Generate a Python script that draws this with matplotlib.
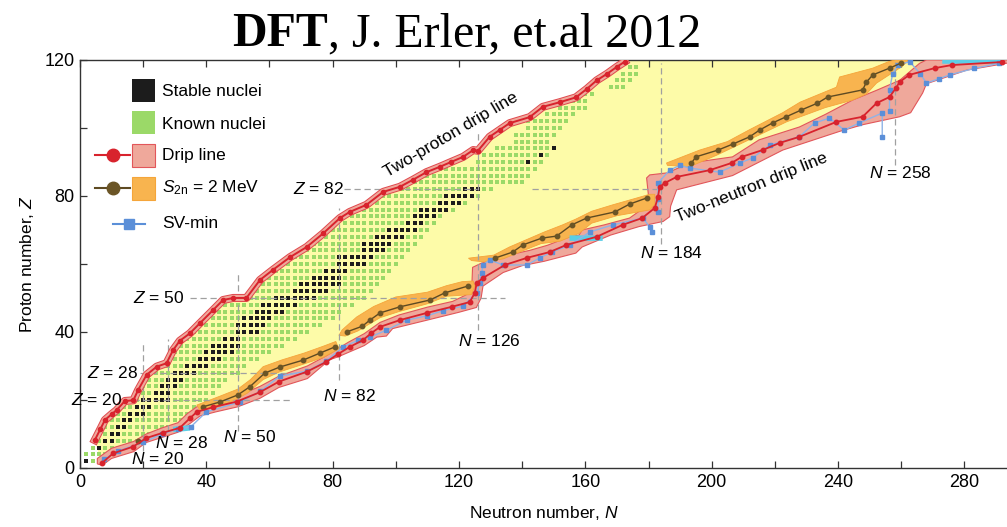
import numpy as np
import matplotlib
matplotlib.use("Agg")
import matplotlib.pyplot as plt
from matplotlib.patches import Polygon, Rectangle
from matplotlib.lines import Line2D

plt.rcParams["font.family"] = ["Liberation Sans", "DejaVu Sans"]
plt.rcParams["mathtext.fontset"] = "custom"
plt.rcParams["mathtext.rm"] = "Liberation Sans"
plt.rcParams["mathtext.it"] = "Liberation Sans:italic"
plt.rcParams["mathtext.bf"] = "Liberation Sans:bold"

# =========================
# data
# =========================
nan = float("nan")

# known nuclei: N range per even Z
known_Z = [2, 4, 6, 8, 10, 12, 14, 16, 18, 20, 22, 24, 26, 28, 30, 32, 34, 36, 38, 40,
           42, 44, 46, 48, 50, 52, 54, 56, 58, 60, 62, 64, 66, 68, 70, 72, 74, 76, 78, 80,
           82, 84, 86, 88, 90, 92, 94, 96, 98, 100, 102, 104, 106, 108, 110, 112, 114, 116, 118]
known_Nmin = [2, 2, 4, 6, 8, 8, 10, 12, 14, 16, 18, 20, 22, 22, 26, 28, 30, 32, 34, 36,
              40, 42, 44, 46, 50, 54, 56, 58, 62, 64, 68, 72, 74, 78, 80, 84, 86, 90, 92, 96,
              98, 104, 108, 112, 126, 128, 132, 138, 138, 142, 142, 148, 152, 154, 160, 168, 170, 172, 174]
known_Nmax = [8, 10, 14, 20, 28, 30, 32, 34, 36, 40, 42, 44, 46, 50, 52, 56, 60, 64, 68, 72,
              76, 80, 82, 86, 90, 92, 94, 96, 98, 100, 102, 104, 106, 108, 110, 112, 114, 118, 122, 126,
              130, 140, 142, 144, 146, 148, 150, 148, 150, 152, 154, 156, 160, 160, 162, 172, 174, 176, 176]

# stable nuclei: N range per Z
stable_Z = [2, 6, 8, 10, 12, 14, 16, 18, 20, 22, 24, 26, 28, 30, 32, 34, 36, 38, 40, 42,
            44, 46, 48, 50, 52, 54, 56, 58, 60, 62, 64, 66, 68, 70, 72, 74, 76, 78, 80, 82,
            90, 92, 94]
stable_Nlo = [2, 6, 8, 10, 12, 14, 16, 18, 20, 24, 26, 28, 30, 34, 38, 40, 42, 46, 50, 50,
              52, 56, 58, 62, 68, 70, 74, 78, 82, 82, 90, 90, 94, 98, 104, 106, 108, 114, 116, 122,
              142, 146, 150]
stable_Nhi = [2, 6, 10, 12, 14, 16, 20, 22, 28, 28, 30, 32, 36, 40, 44, 48, 50, 50, 56, 58,
              60, 64, 68, 74, 78, 82, 82, 84, 90, 92, 96, 98, 102, 106, 108, 112, 116, 120, 124, 126,
              142, 146, 150]

# two-proton drip line
pdrip_N = [4.7, 6.5, 7.9, 10, 11.6, 14.2, 16.9, 18.4, 21.1, 24.3, 27.4, 29.5, 31.6, 34.8, 38,
           42.2, 45.3, 48.5, 52.7, 57, 61, 66.5, 71.8, 77, 82.3, 85.4, 90.7, 96, 101.3, 105.5,
           109.7, 114, 117.5, 121.3, 124.5, 126, 129.7, 133, 136, 142.4, 146.5, 152, 157, 160.5,
           163.6, 167, 170, 172.5]
pdrip_Z = [8.2, 11.5, 14.1, 15.8, 17.0, 19.7, 19.9, 22.9, 27.4, 29.8, 30.8, 34.7, 37.4, 39.6, 42.6,
           46.5, 49.4, 50.0, 50.0, 55.3, 58.2, 62, 65, 69, 73.5, 75.3, 77.4, 81.2, 82.7, 84.8,
           87, 88.6, 90, 91.5, 93.5, 93.3, 97.4, 99.5, 101.4, 103.2, 106.2, 107.6, 109, 111.5,
           114, 116, 118, 119.5]

# two-neutron drip line
ndrip_N = [6.9, 10.5, 16.9, 21, 26.4, 31.6, 34.8, 37, 42.2, 49.6, 57, 63, 71.8, 78, 81.7,
           85.4, 89.6, 92.3, 95, 101.3, 109.8, 117.7, 123.4, 125, 125.6, 127.6, 134.5, 141.5,
           148.7, 154, 163.6, 171.8, 178, 182, 183, 183.5, 185.1, 188.9, 199.4, 206.3, 209.5,
           216.1, 221.5, 227.8, 239.5, 247.8, 252.2, 256.3, 258.3, 259.5, 262.5, 270.6, 276, 292]
ndrip_Z = [1.4, 4.3, 6.3, 8.8, 10.4, 11.8, 14.6, 16.5, 17.9, 19.5, 22.3, 25.4, 28.3, 31.2, 33.5,
           35.6, 37.6, 39.7, 41.5, 43.5, 45.6, 47.4, 48.8, 51.5, 54.4, 55.9, 59.7, 61.8,
           63.5, 65.6, 68, 71.5, 73.5, 76.5, 79.7, 82.6, 83.8, 85.6, 87.6, 89.7, 91.5,
           93.5, 95.6, 97.4, 101.8, 103.3, 107.3, 109.1, 111.7, 113.5, 115.6, 117.6, 118.5, 119.4]

# uncertainty band of the neutron drip line (upper edge, then lower edge back)
band_up_N = [5.5, 10, 17, 21, 26, 31, 34, 37, 42, 50, 57, 63, 72, 78, 85, 90, 95, 101, 110,
             118, 122, 124, 124.3, 127, 135, 142.4, 148, 155, 158, 159, 166, 174, 179, 180,
             179.4, 180.4, 186, 193, 206.6, 215, 227.8, 236, 244.6, 252, 259.5, 265.8, 268, 295]
band_up_Z = [2.8, 5.8, 7.8, 10, 11.8, 13.3, 16, 18, 19.4, 21.2, 24, 27, 30, 33, 37, 39.5, 42.8, 45, 47.3,
             49, 50.8, 52, 59, 60.2, 62.5, 64, 65.5, 68, 68.5, 70, 71.5, 73.5, 76.8, 80,
             85.3, 86.2, 86.8, 89.7, 91.5, 96.5, 100.3, 104, 108.2, 111, 114, 119, 120, 120]
band_lo_N = [295, 280.7, 268, 266.8, 263, 259.5, 248, 240.5, 222.5, 206.6, 188.9, 187, 186.7,
             184.6, 177, 168, 159, 157, 147, 140, 134, 127.6, 127, 125.5, 120, 110, 99, 97, 94,
             90, 82, 79, 72, 63, 57, 50, 43, 38, 35, 31, 26, 21, 17, 10, 7, 5.5]
band_lo_Z = [119.3, 117, 113, 110.3, 104.5, 103.3, 101, 99, 93.5, 86, 81.8, 77, 73.9,
             72.5, 71, 68.5, 65, 63.2, 60.8, 59.5, 57.5, 53.5, 50, 47.2, 45.8, 43.5, 41, 38.8, 38.5,
             36, 32.8, 31.8, 26.3, 23.7, 20.5, 18, 16.5, 15.3, 13.2, 10.5, 9, 7.5, 4.8, 2.8, 0.8, 1.2]

# S2n = 2 MeV line, pieces separated by nan
s2n_N = [18.4, nan,
         39, 44.3, 50, 53.8, 58.5, 63.3, 70.6, 76, 80.7, nan,
         84.4, 89.4, 91.8, 95, 101.3, 110.8, 115.5, 122.8, nan,
         131.3, 137, 140.2, 146.2, 150.9, 155.7, 160.4, 169.3, 174, 179.4, nan,
         193.6, 195, 202, 206.8, 212, 215.2, 219.3, 223.6, 228.4, 233.5, 236.7, 247.8, 249, 251,
         256.3, 260]
s2n_Z = [7.8, nan,
         18, 19.4, 21.5, 23.9, 27.9, 29.7, 31.7, 33.8, 35.6, nan,
         40, 41.7, 43.5, 45.6, 47.4, 49.4, 51.5, 53.5, nan,
         61.7, 63.5, 65.6, 67.6, 68.2, 71.5, 73.5, 75.3, 77.6, 79.4, nan,
         89.7, 91.5, 93.5, 95.3, 97.4, 99.4, 101.5, 103.3, 105.3, 107.3, 109.1, 111.2, 113.5, 115.6,
         117.6, 119.1]

# orange bands round the S2n pieces (closed outlines)
s2n_band_a_N = [37, 44, 50, 54, 58, 64, 71, 77, 81, 82, 77, 70, 63, 58, 53, 49, 44, 38]
s2n_band_a_Z = [18.5, 21, 23.2, 26, 29.8, 31.8, 33.8, 35.8, 37.2, 35, 32.5, 30.3, 28.2, 26, 22, 20, 18, 17]
s2n_band_b_N = [83, 87.6, 93, 100, 110, 116, 121, 124.5, 125, 124, 116, 110, 101, 95, 91, 88, 84, 82]
s2n_band_b_Z = [40.6, 44.4, 47.5, 50.3, 51.7, 53.6, 54.8, 55, 53.5, 51, 50.5, 48.3, 46, 44.2, 42, 40.3, 38.8, 39]
s2n_band_c_N = [123, 131, 136, 142, 147, 152.8, 157, 162, 168.7, 174, 180.4, 182,
                182, 180.4, 170, 162, 158, 152, 146, 140, 134, 128, 124]
s2n_band_c_Z = [61.7, 62.6, 65, 67.4, 69.4, 71.5, 73.2, 75.5, 77.4, 78.8, 80.5, 80.5,
                77.5, 75.9, 74.2, 72, 69, 66.7, 66, 63.8, 61.5, 60.6, 61]
s2n_band_d_N = [185.7, 196.2, 205, 212, 222.5, 228, 239.5, 240.5, 251, 256, 258, 262,
                262, 259.5, 252.2, 249, 244.6, 236, 223.7, 212, 201.6, 193, 186]
s2n_band_d_Z = [89.7, 93.5, 96, 99.5, 104.5, 107.6, 112, 115, 117.6, 119.5, 120, 120,
                119.5, 117.6, 113.2, 110, 108.2, 106, 101.8, 96.6, 92, 88.6, 89]

# SV-min drip line, pieces separated by nan
sv_N = [7.5, 12, 20, 26, 31, 35, 40, 50.6, 57, 63.3, 72, 78, 83.3, 88, 91.8, 97, 103.5, 110, 115,
        121.2, 125.6, 126.5, 127.2, 127.6, 129.7, 134, 141.5, 145.6, 149.3, 155, 161.4, 168.7,
        178.2, 180.4, 181, nan,
        183, 183, 183, 186.7, 189.9, 193, 202.5, 208.9, 213, 218.4, 227.8, 232.6, 237.3, 242,
        246.8, 254, 254, nan,
        256.3, 256.3, 257.3, 259, 262.7, 266, 268, 272, 275.3, 283, 291]
sv_Z = [2.5, 5, 7.5, 10, 11.5, 12, 16.5, 19.4, 22.5, 27, 28.5, 31.5, 35.6, 37.5, 38.5, 40.5, 43.5, 44.8, 46.3,
        47.6, 51.5, 54.5, 57.4, 59.7, 61.2, 59.7, 59.7, 61.8, 63.5, 65.5, 69.4, 71.5,
        73.5, 70.9, 69.4, nan,
        75.3, 79, 83.8, 87.6, 89, 88.2, 87, 89.7, 91.2, 95, 97.4, 101.5, 102.9, 99.4,
        101.5, 104.4, 97.4, nan,
        105, 111.2, 116, 118.5, 119.5, 116, 113.2, 114.5, 115.6, 117.5, 119]

# cyan highlights on SV-min
cyan_N = [29.5, 34.8, nan, 155, 165.5, nan, 273, 292]
cyan_Z = [11.3, 11.8, nan, 67.6, 67.6, nan, 119.7, 119.7]

# magic numbers and the extent of their dashed guides
magic_Z = [20, 28, 50, 82, 82]
magic_Z_from = [13.6, 19, 34.8, 83.5, 143]
magic_Z_to = [67.5, 71.8, 134.5, 125.6, 183.5]
magic_N = [20, 28, 50, 82, 126, 184, 258]
magic_N_from = [5, 11, 11, 26, 40.6, 66, 89]
magic_N_to = [37, 38, 57, 76.5, 98.5, 119, 119.5]

# =========================
# colours
# =========================
c_yellow = "#fdfba8"
c_green = "#9bd968"
c_black = "#1c1c1c"
c_pink = "#efa89b"
c_red = "#d8232d"
c_orange = "#f8b44f"
c_brown = "#5e4a22"
c_blue = "#5b8fd8"
c_cyan = "#5ccde6"
c_dash = "#a0a0a0"

# =========================
# figure
# =========================
fig = plt.figure(figsize=(10.07, 5.27), dpi=100)
ax = fig.add_axes([0.0794, 0.1120, 0.9206, 0.7742])
ax.set_xlim(0, 293.5)
ax.set_ylim(0, 120)

# yellow: predicted bound nuclei
yel = list(zip(pdrip_N, pdrip_Z)) + [(174, 120), (295, 120)] + list(zip(ndrip_N[::-1], ndrip_Z[::-1]))
ax.add_patch(Polygon(yel, closed=True, fc=c_yellow, ec="none", zorder=1))

# known + stable nuclei
kn_N, kn_Z = [], []
for z, lo, hi in zip(known_Z, known_Nmin, known_Nmax):
    for n in range(lo, hi + 1, 2):
        kn_N.append(n)
        kn_Z.append(z)
st_N, st_Z = [], []
for z, lo, hi in zip(stable_Z, stable_Nlo, stable_Nhi):
    for n in range(lo, hi + 1, 2):
        st_N.append(n)
        st_Z.append(z)
ax.scatter(kn_N, kn_Z, marker="s", s=12, color=c_green, linewidths=0, zorder=2)
ax.scatter(st_N, st_Z, marker="s", s=12, color=c_black, linewidths=0, zorder=2.1)

# neutron drip uncertainty band
band = list(zip(band_up_N + band_lo_N, band_up_Z + band_lo_Z))
ax.add_patch(Polygon(band, closed=True, fc=c_pink, ec="#e2565a", lw=0.8, zorder=3))

# S2n bands
for bn, bz in [(s2n_band_a_N, s2n_band_a_Z), (s2n_band_b_N, s2n_band_b_Z),
               (s2n_band_c_N, s2n_band_c_Z), (s2n_band_d_N, s2n_band_d_Z)]:
    ax.add_patch(Polygon(list(zip(bn, bz)), closed=True, fc=c_orange, ec="#f5a53a",
                         lw=0.6, zorder=3.5))

# dashed magic-number guides
for z, a, b in zip(magic_Z, magic_Z_from, magic_Z_to):
    ax.plot([a, b], [z, z], ls=(0, (5, 3)), lw=0.9, color=c_dash, zorder=4)
for n, a, b in zip(magic_N, magic_N_from, magic_N_to):
    ax.plot([n, n], [a, b], ls=(0, (5, 3)), lw=0.9, color=c_dash, zorder=4)

# lines
ax.plot(cyan_N, cyan_Z, color=c_cyan, lw=4, solid_capstyle="butt", zorder=4.8)
ax.plot(sv_N, sv_Z, color="#8fb3e6", lw=1.0, marker="s", ms=2.6, mfc=c_blue, mec=c_blue, zorder=5)
ax.plot(s2n_N, s2n_Z, color=c_brown, lw=1.0, marker="o", ms=3.2, mfc="#6b5526", mec="#6b5526", zorder=5.5)
ax.plot(ndrip_N, ndrip_Z, color=c_red, lw=1.3, marker="o", ms=3.2, zorder=6)
# proton drip line: narrow pink ribbon with red rim, then the line itself
ax.plot(pdrip_N, pdrip_Z, color="#e0474d", lw=5.8, solid_joinstyle="round", zorder=5.8)
ax.plot(pdrip_N, pdrip_Z, color=c_pink, lw=4.4, solid_joinstyle="round", zorder=5.9)
ax.plot(pdrip_N, pdrip_Z, color=c_red, lw=1.4, marker="o", ms=3.0, zorder=6)

# =========================
# labels in the plot
# =========================
fs = 12.5
ax.text(83.5, 82, "$Z$ = 82", ha="right", va="center", fontsize=fs, zorder=7)
ax.text(33.2, 50, "$Z$ = 50", ha="right", va="center", fontsize=fs, zorder=7)
ax.text(18.4, 28, "$Z$ = 28", ha="right", va="center", fontsize=fs, zorder=7)
ax.text(13.4, 20, "$Z$ = 20", ha="right", va="center", fontsize=fs, zorder=7)
ax.text(24.4, 2.6, "$N$ = 20", ha="center", va="center", fontsize=fs, zorder=7)
ax.text(32, 7.4, "$N$ = 28", ha="center", va="center", fontsize=fs, zorder=7)
ax.text(53.8, 9.1, "$N$ = 50", ha="center", va="center", fontsize=fs, zorder=7)
ax.text(85.4, 21.2, "$N$ = 82", ha="center", va="center", fontsize=fs, zorder=7)
ax.text(129.7, 37.4, "$N$ = 126", ha="center", va="center", fontsize=fs, zorder=7)
ax.text(187.3, 63.2, "$N$ = 184", ha="center", va="center", fontsize=fs, zorder=7)
ax.text(259.8, 86.8, "$N$ = 258", ha="center", va="center", fontsize=fs, zorder=7)
ax.text(117.4, 97.9, "Two-proton drip line", rotation=30.5, ha="center", va="center",
        fontsize=fs, rotation_mode="anchor", zorder=7)
ax.text(212.7, 82.6, "Two-neutron drip line", rotation=22, ha="center", va="center",
        fontsize=fs, rotation_mode="anchor", zorder=7)

# =========================
# legend (drawn by hand)
# =========================
tr = ax.transAxes
sw, sh = 0.0248, 0.0564
ax.add_patch(Rectangle((0.0561, 0.897), sw, sh, transform=tr, fc=c_black, ec="none", clip_on=False, zorder=8))
ax.add_patch(Rectangle((0.0561, 0.8186), sw, sh, transform=tr, fc=c_green, ec="none", clip_on=False, zorder=8))
ax.add_patch(Rectangle((0.0561, 0.7377), sw, sh, transform=tr, fc=c_pink, ec="#e2565a", lw=0.8, clip_on=False, zorder=8))
ax.add_patch(Rectangle((0.0561, 0.6569), sw, sh, transform=tr, fc=c_orange, ec="#f5a53a", lw=0.8, clip_on=False, zorder=8))
ax.add_line(Line2D([0.0162, 0.0539], [0.767, 0.767], transform=tr, color=c_red, lw=1.5, clip_on=False, zorder=8))
ax.add_line(Line2D([0.0356], [0.767], transform=tr, color=c_red, marker="o", ms=9, clip_on=False, zorder=8))
ax.add_line(Line2D([0.0162, 0.0539], [0.686, 0.686], transform=tr, color=c_brown, lw=1.5, clip_on=False, zorder=8))
ax.add_line(Line2D([0.0356], [0.686], transform=tr, color="#6b5526", marker="o", ms=9, clip_on=False, zorder=8))
ax.add_line(Line2D([0.0356, 0.0701], [0.598, 0.598], transform=tr, color=c_blue, lw=1.5, clip_on=False, zorder=8))
ax.add_line(Line2D([0.0529], [0.598], transform=tr, color=c_blue, marker="s", ms=7, clip_on=False, zorder=8))
leg_txt = ["Stable nuclei", "Known nuclei", "Drip line", "$S_{2\\mathrm{n}}$ = 2 MeV", "SV-min"]
leg_y = [0.9216, 0.843, 0.767, 0.686, 0.598]
for t, y in zip(leg_txt, leg_y):
    ax.text(0.0885, y, t, transform=tr, ha="left", va="center", fontsize=fs, zorder=8)

# =========================
# axes
# =========================
ax.set_xticks([0, 40, 80, 120, 160, 200, 240, 280])
ax.set_xticks(np.arange(20, 300, 40), minor=True)
ax.set_yticks([0, 40, 80, 120])
ax.set_yticks([20, 60, 100], minor=True)
ax.tick_params(which="both", direction="in", top=True, right=False, length=5, width=0.9,
               color="#333333", labelsize=13, pad=4)
for side in ["left", "bottom", "top"]:
    ax.spines[side].set_color("#333333")
    ax.spines[side].set_linewidth(1.0)
ax.spines["right"].set_visible(False)
ax.set_xlabel("Neutron number, $N$", fontsize=12.5, labelpad=10)
ax.set_ylabel("Proton number, $Z$", fontsize=12.5, labelpad=6)

# title with bold "DFT"
serif = ["Liberation Serif", "DejaVu Serif"]
t1 = fig.text(0.2304, 0.9127, "DFT", fontsize=34.5, weight="bold", family=serif,
              ha="left", va="baseline")
ax.annotate(", J. Erler, et.al 2012", xy=(1, 0), xycoords=t1, ha="left", va="bottom",
            fontsize=34.5, family=serif, annotation_clip=False)

fig.savefig("out.png", dpi=100)
